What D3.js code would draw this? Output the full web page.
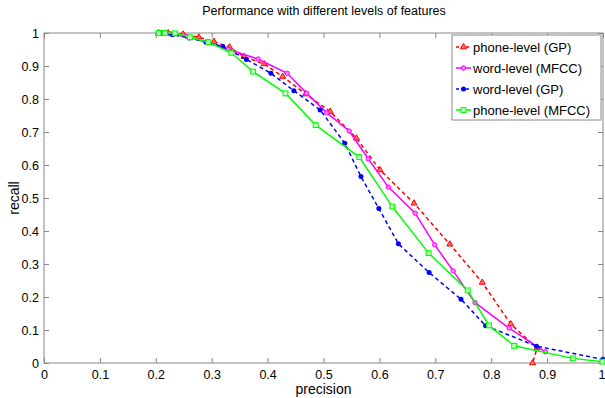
<!DOCTYPE html>
<html>
<head>
<meta charset="utf-8">
<script src="https://cdn.jsdelivr.net/npm/d3@7"></script>
<style>
  body { margin: 0; background: #fff; }
  svg text { font-family: "Liberation Sans", Arial, sans-serif; fill: #000; }
</style>
</head>
<body>
<div id="graph"></div>
<script>
var width = 605,
    height = 398
var margin = {top: 33, right: 2, bottom: 35, left: 44}

// data: precision (x) / recall (y)
var seriesNames = ['phone-level (GP)', 'word-level (MFCC)', 'word-level (GP)', 'phone-level (MFCC)']
var seriesColors = ['#ff0000', '#ff00ff', '#0000ff', '#00ff00']
var seriesDash = ['4,3', null, '4,3', null]
var seriesMarker = ['triangle', 'circle', 'dot', 'square']

var phoneGP = [[0.205,1.0],[0.222,1.0],[0.249,0.996],[0.277,0.987],[0.304,0.974],[0.332,0.957],[0.358,0.928],[0.394,0.906],[0.427,0.868],[0.468,0.815],[0.512,0.762],[0.559,0.681],[0.601,0.585],[0.662,0.484],[0.726,0.36],[0.784,0.244],[0.835,0.118],[0.882,0.045],[0.874,0.0]]
var wordMFCC = [[0.205,1.0],[0.225,0.998],[0.255,0.99],[0.29,0.972],[0.33,0.95],[0.383,0.921],[0.435,0.878],[0.47,0.817],[0.506,0.758],[0.546,0.703],[0.58,0.619],[0.616,0.533],[0.664,0.454],[0.699,0.358],[0.732,0.279],[0.771,0.183],[0.832,0.106],[0.897,0.034]]
var wordGP = [[0.21,1.0],[0.23,0.995],[0.26,0.985],[0.29,0.972],[0.32,0.959],[0.362,0.92],[0.406,0.878],[0.447,0.825],[0.494,0.767],[0.538,0.666],[0.567,0.565],[0.599,0.468],[0.634,0.361],[0.689,0.274],[0.746,0.193],[0.79,0.113],[0.881,0.051],[1.0,0.011]]
var phoneMFCC = [[0.205,1.0],[0.216,1.0],[0.234,0.999],[0.261,0.987],[0.294,0.972],[0.335,0.94],[0.374,0.883],[0.432,0.817],[0.486,0.721],[0.564,0.624],[0.623,0.474],[0.688,0.333],[0.758,0.22],[0.796,0.114],[0.841,0.052],[0.946,0.014],[0.999,0.004]]
var seriesData = [phoneGP, wordMFCC, wordGP, phoneMFCC]

var xTicks = [0, 0.1, 0.2, 0.3, 0.4, 0.5, 0.6, 0.7, 0.8, 0.9, 1]
var yTicks = [0, 0.1, 0.2, 0.3, 0.4, 0.5, 0.6, 0.7, 0.8, 0.9, 1]

var svg = d3.select('#graph').append('svg')
    .attr('width', width)
    .attr('height', height)

var x = d3.scaleLinear().domain([0, 1]).range([margin.left, width - margin.right])
var y = d3.scaleLinear().domain([0, 1]).range([height - margin.bottom, margin.top])
var fmt = function(d) { return d === 0 || d === 1 ? String(d) : d3.format('.1f')(d) }

// box
svg.append('rect')
    .attr('x', x(0)).attr('y', y(1))
    .attr('width', x(1) - x(0)).attr('height', y(0) - y(1))
    .attr('fill', 'none').attr('stroke', '#888').attr('stroke-width', 1)

// matlab style inward ticks on all sides
function styleAxis(g) {
  g.select('.domain').remove()
  g.selectAll('.tick line').attr('stroke', '#888')
  g.selectAll('.tick text').style('font-size', '12.5px')
}
var xAxisG = svg.append('g').attr('transform', 'translate(0,' + y(0) + ')')
    .call(d3.axisBottom(x).tickValues(xTicks).tickFormat(fmt).tickSizeInner(-5).tickPadding(7))
    .call(styleAxis)
// the last label sits on the window edge
xAxisG.selectAll('.tick text').filter(function(d) { return d === 1 }).attr('text-anchor', 'end').attr('dx', 2)
svg.append('g').attr('transform', 'translate(0,' + y(1) + ')')
    .call(d3.axisTop(x).tickValues(xTicks).tickFormat('').tickSizeInner(-5))
    .call(styleAxis)
svg.append('g').attr('transform', 'translate(' + x(0) + ',0)')
    .call(d3.axisLeft(y).tickValues(yTicks).tickFormat(fmt).tickSizeInner(-5).tickPadding(5))
    .call(styleAxis)
svg.append('g').attr('transform', 'translate(' + x(1) + ',0)')
    .call(d3.axisRight(y).tickValues(yTicks).tickFormat('').tickSizeInner(-5))
    .call(styleAxis)

// lines
var line = d3.line().x(function(d) { return x(d[0]) }).y(function(d) { return y(d[1]) })

function drawMarker(g, type, color, px, py) {
  if (type === 'triangle') {
    g.append('path').attr('d', d3.symbol(d3.symbolTriangle, 16)())
      .attr('transform', 'translate(' + px + ',' + py + ')')
      .attr('fill', '#ff7070').attr('stroke', color).attr('stroke-width', 1)
  } else if (type === 'circle') {
    g.append('circle').attr('cx', px).attr('cy', py).attr('r', 2.2)
      .attr('fill', '#ff80ff').attr('stroke', color).attr('stroke-width', 1)
  } else if (type === 'dot') {
    g.append('circle').attr('cx', px).attr('cy', py).attr('r', 2.5)
      .attr('fill', color).attr('stroke', 'none')
  } else {
    g.append('rect').attr('x', px - 2.4).attr('y', py - 2.4).attr('width', 4.8).attr('height', 4.8)
      .attr('fill', '#c8ffc8').attr('stroke', color).attr('stroke-width', 1.1)
  }
}

seriesData.forEach(function(data, i) {
  var g = svg.append('g')
  g.append('path').datum(data)
    .attr('d', line)
    .attr('fill', 'none')
    .attr('stroke', seriesColors[i])
    .attr('stroke-width', 1.5)
    .attr('stroke-dasharray', seriesDash[i])
  data.forEach(function(d) { drawMarker(g, seriesMarker[i], seriesColors[i], x(d[0]), y(d[1])) })
})

// legend
var lg = svg.append('g').attr('transform', 'translate(452,35)')
lg.append('rect').attr('width', 149).attr('height', 85)
    .attr('fill', '#fff').attr('stroke', '#888').attr('stroke-width', 1)
seriesNames.forEach(function(name, i) {
  var ly = 12 + i * 21
  lg.append('line').attr('x1', 4).attr('x2', 19).attr('y1', ly).attr('y2', ly)
    .attr('stroke', seriesColors[i]).attr('stroke-width', 1.5)
    .attr('stroke-dasharray', seriesDash[i] ? '3,2' : null)
  drawMarker(lg, seriesMarker[i], seriesColors[i], 11.5, ly)
  lg.append('text').attr('x', 21).attr('y', ly + 4.5)
    .style('font-size', '13px').text(name)
})

// titles
svg.append('text').attr('x', 324).attr('y', 15).attr('text-anchor', 'middle')
    .style('font-size', '12.5px').text('Performance with different levels of features')
svg.append('text').attr('x', x(0.5)).attr('y', 394).attr('text-anchor', 'middle')
    .style('font-size', '14px').text('precision')
svg.append('text').attr('transform', 'translate(19,' + y(0.5) + ') rotate(-90)')
    .attr('text-anchor', 'middle').style('font-size', '14px').text('recall')
</script>
</body>
</html>
